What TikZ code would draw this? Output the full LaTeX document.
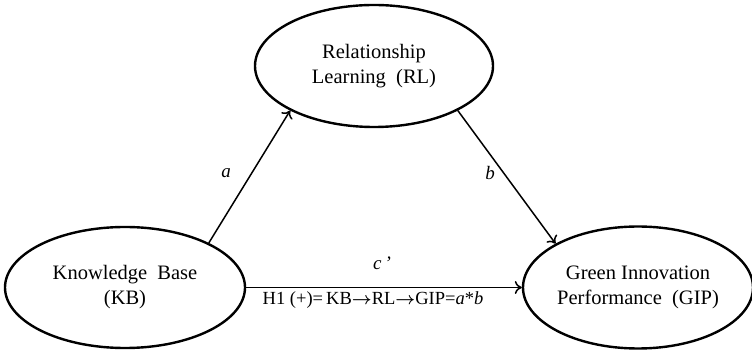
\documentclass[tikz,border=0pt]{standalone}
\usepackage{fontspec}
\setmainfont{Liberation Serif}
\usetikzlibrary{shapes.geometric,arrows.meta}
\begin{document}
\begin{tikzpicture}[x=1pt,y=-1pt,
  lat/.style={draw,ellipse,line width=2.4pt,inner sep=0pt,align=center,font=\fontsize{20.5}{25}\selectfont},
  path/.style={line width=1.5pt,-{To[length=7pt,width=13pt,line width=1.5pt]}},
  lbl/.style={font=\fontsize{19}{20}\selectfont\itshape}]
\useasboundingbox (0,0) rectangle (752,352);
\node[lat,minimum width=238pt,minimum height=122pt] (RL) at (374,66) {Relationship\\Learning\ \ (RL)};
\node[lat,minimum width=240pt,minimum height=121pt] (KB) at (125,287.5) {Knowledge\ \ Base\\(KB)};
\node[lat,minimum width=230pt,minimum height=122pt] (GIP) at (638,287.5) {Green Innovation\\Performance\ \ (GIP)};
\draw[path] (KB.28.5) -- (RL.208.7);
\draw[path] (RL.332) -- (GIP.152.6);
\draw[path] (KB.east) -- (GIP.west);
\node[lbl] (la) at (226,173) {a};
\node[lbl] (lb) at (490,173) {b};
\node[lbl] (lc) at (382,263) {c\,’};
\node[font=\fontsize{18.5}{20}\selectfont] (h) at (373,300) {H1 (+)=\,KB{\boldmath$\rightarrow$}RL{\boldmath$\rightarrow$}GIP=\textit{a}*\textit{b}};
\end{tikzpicture}
\end{document}
